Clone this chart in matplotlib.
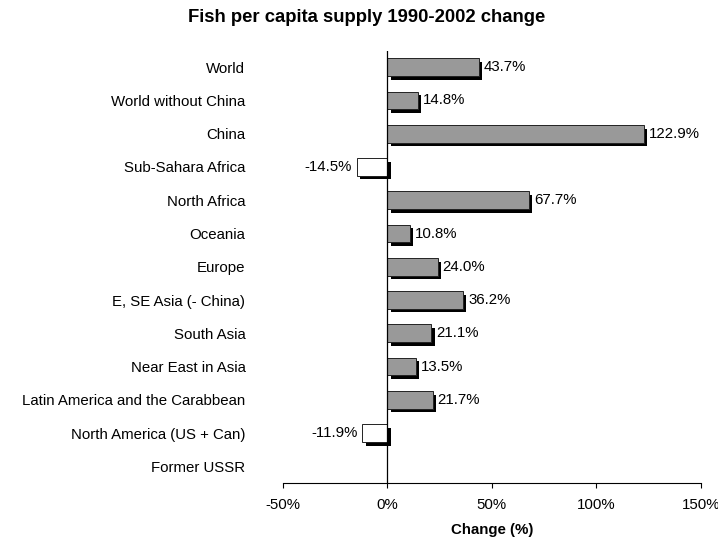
import matplotlib
matplotlib.use("Agg")
import matplotlib.pyplot as plt
import matplotlib.patheffects as pe
import numpy as np

plt.rcParams['font.family'] = ['Liberation Sans', 'DejaVu Sans']

categories = ["World", "World without China", "China", "Sub-Sahara Africa", "North Africa",
              "Oceania", "Europe", "E, SE Asia (- China)", "South Asia", "Near East in Asia",
              "Latin America and the Carabbean", "North America (US + Can)", "Former USSR"]
values = [43.7, 14.8, 122.9, -14.5, 67.7, 10.8, 24.0, 36.2, 21.1, 13.5, 21.7, -11.9, np.nan]
value_labels = ["43.7%", "14.8%", "122.9%", "-14.5%", "67.7%", "10.8%", "24.0%", "36.2%",
                "21.1%", "13.5%", "21.7%", "-11.9%", ""]
xticks = [-50, 0, 50, 100, 150]
xtick_labels = ["-50%", "0%", "50%", "100%", "150%"]

FS = 10.8

fig = plt.figure(figsize=(7.18, 5.46), dpi=100)
ax = fig.add_axes([0.394, 0.1154, 0.582, 0.792])

y = np.arange(len(categories))
colors = ['#999999' if (v == v and v >= 0) else 'white' for v in values]
bars = ax.barh(y, np.nan_to_num(values), height=0.53, color=colors, edgecolor='#222222', linewidth=0.7)
for b, v in zip(bars, values):
    if v != v:
        b.set_visible(False)
        continue
    b.set_path_effects([pe.SimplePatchShadow(offset=(2.3, -2.6), shadow_rgbFace='black', alpha=1.0),
                        pe.Normal()])

for yi, v, lab in zip(y, values, value_labels):
    if v != v:
        continue
    if v >= 0:
        ax.text(v + 2.4, yi, lab, ha='left', va='center', fontsize=FS)
    else:
        ax.text(v - 2.4, yi, lab, ha='right', va='center', fontsize=FS)

ax.set_xlim(-50, 150)
ax.set_ylim(len(categories) - 0.5, -0.5)
ax.set_xticks(xticks)
ax.set_xticklabels(xtick_labels, fontsize=FS)
ax.set_yticks(y)
ax.set_yticklabels(categories, fontsize=FS)
ax.tick_params(axis='y', length=0, pad=27)
ax.tick_params(axis='x', length=3.6, width=0.8, direction='out', pad=7)
for s in ['top', 'right', 'left']:
    ax.spines[s].set_visible(False)
ax.spines['bottom'].set_linewidth(0.8)
ax.axvline(0, color='black', linewidth=0.9)
ax.set_xlabel("Change (%)", fontsize=FS, fontweight='bold', labelpad=8)
fig.text(0.51, 0.968, "Fish per capita supply 1990-2002 change", ha='center', va='center',
         fontsize=13.3, fontweight='bold')

fig.savefig("out.png", dpi=100)
